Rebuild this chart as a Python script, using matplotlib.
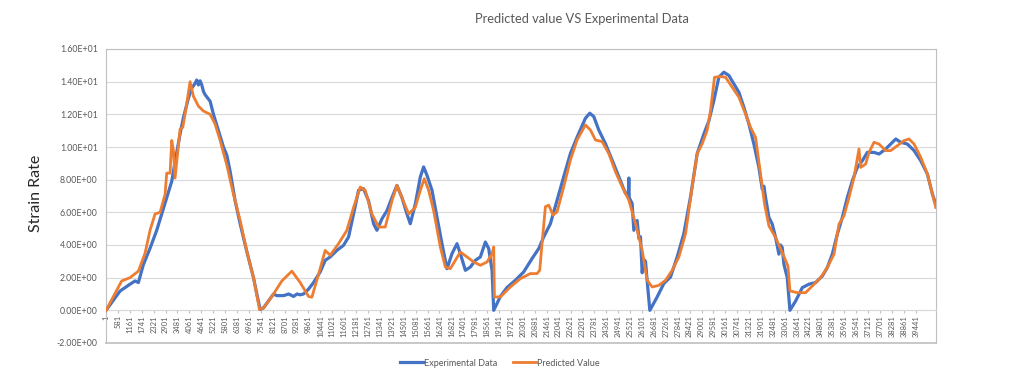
import matplotlib
matplotlib.use("Agg")
import matplotlib.pyplot as plt

# ---- data ----
exp_x = [1, 683, 1170, 1414, 1577, 1820, 2145, 2470, 2714, 2958, 3202, 3364, 3608, 3770,
         4014, 4177, 4339, 4420, 4502, 4583, 4664, 4746, 4827, 4950, 5071, 5150, 5233, 5477,
         5720, 5883, 6046, 6289, 6533, 6858, 7183, 7345, 7508, 7670, 8158, 8320, 8646, 8900,
         9133, 9300, 9458, 9620, 9864, 10106, 10431, 10675, 10918, 11243, 11568, 11812,
         12056, 12300, 12543, 12787, 13031, 13193, 13437, 13681, 13925, 14168, 14412, 14656,
         14818, 15062, 15306, 15468, 15631, 15875, 16118, 16362, 16606, 16850, 17093, 17256,
         17500, 17743, 17987, 18231, 18475, 18637, 18800, 18881, 19206, 19529, 19935, 20341,
         20748, 21073, 21317, 21641, 21966, 22291, 22616, 22941, 23347, 23559, 23754, 23998,
         24323, 24648, 24973, 25298, 25440, 25460, 25480, 25623, 25704, 25866, 25950, 26029,
         26110, 26200, 26273, 26354, 26484, 26841, 27166, 27491, 27816, 28141, 28466, 28791,
         29116, 29360, 29601, 29845, 30089, 30333, 30577, 30820, 31064, 31308, 31552, 31795,
         31958, 32040, 32120, 32283, 32445, 32608, 32770, 32850, 32933, 33014, 33176, 33306,
         33583, 33908, 34233, 34558, 34883, 35127, 35370, 35614, 35858, 36102, 36345, 36589,
         36833, 37077, 37402, 37645, 37970, 38214, 38458, 38702, 39027, 39352, 39677, 40002,
         40245, 40408]
exp_y = [0.0, 1.18, 1.6, 1.8, 1.7, 2.8, 3.8, 4.9, 5.9, 6.9, 7.9, 9.1, 10.8, 11.8,
         13.0, 13.6, 13.9, 14.1, 13.8, 14.05, 13.8, 13.4, 13.2, 13.0, 12.8, 12.4, 12.0, 11.0,
         10.0, 9.5, 8.5, 6.7, 5.3, 3.6, 2.0, 1.0, 0.05, 0.15, 1.0, 0.9, 0.9, 1.0,
         0.85, 1.0, 0.95, 1.0, 1.3, 1.7, 2.35, 3.06, 3.27, 3.67, 3.98, 4.49,
         5.9, 7.35, 7.45, 6.7, 5.3, 4.9, 5.6, 6.1, 6.9, 7.65, 6.9, 5.9,
         5.3, 6.5, 8.16, 8.78, 8.27, 7.35, 5.7, 4.08, 2.55, 3.47, 4.08, 3.47,
         2.45, 2.65, 3.06, 3.27, 4.18, 3.78, 2.45, 0.0, 0.85, 1.4, 1.84, 2.35,
         3.17, 3.78, 4.5, 5.3, 6.75, 8.18, 9.6, 10.6, 11.76, 12.07, 11.86, 11.04,
         10.2, 9.2, 8.18, 7.16, 7.2, 8.1, 6.9, 6.54, 4.9, 5.5, 4.4, 4.5,
         2.3, 3.1, 3.0, 1.8, 0.0, 0.82, 1.64, 2.04, 3.27, 4.7, 6.95, 9.6,
         10.8, 11.6, 12.84, 14.27, 14.58, 14.38, 13.87, 13.35, 12.43, 11.41, 10.18, 8.75,
         7.42, 7.6, 6.91, 5.69, 5.28, 4.46, 3.44, 4.0, 3.84, 2.82, 2.0, 0.0,
         0.57, 1.39, 1.6, 1.7, 2.1, 2.62, 3.44, 4.66, 5.69, 6.91, 7.93, 8.75,
         9.16, 9.67, 9.67, 9.57, 9.88, 10.18, 10.49, 10.29, 10.18, 9.78, 9.16, 8.34,
         7.12, 6.5]

pred_x = [1, 764, 1170, 1577, 1902, 2145, 2389, 2633, 2877, 2958, 3120, 3202, 3283, 3364,
          3445, 3608, 3738, 3900, 4095, 4258, 4502, 4746, 5071, 5314, 5558, 5883, 6208, 6533,
          6858, 7183, 7475, 7670, 8158, 8564, 9052, 9458, 9864, 10025, 10350, 10675, 10918,
          11325, 11731, 12056, 12381, 12625, 12950, 13275, 13600, 13925, 14168, 14412, 14737,
          15062, 15306, 15501, 15712, 15956, 16281, 16525, 16768, 17012, 17256, 17581, 17906,
          18231, 18556, 18800, 18881, 18914, 19206, 19692, 20179, 20666, 20991, 21122, 21236,
          21398, 21560, 21772, 21966, 22291, 22616, 22941, 23347, 23591, 23835, 24160, 24485,
          24810, 25135, 25460, 25785, 26110, 26354, 26598, 26923, 27248, 27573, 27898, 28223,
          28548, 28791, 29035, 29279, 29439, 29634, 29927, 30170, 30495, 30820, 31145, 31389,
          31633, 31877, 32072, 32283, 32608, 32933, 33209, 33306, 33664, 34070, 34395, 34801,
          35127, 35452, 35695, 35939, 36183, 36427, 36670, 36751, 36995, 37158, 37402, 37645,
          37970, 38214, 38539, 38864, 39108, 39352, 39677, 40002, 40245, 40408]
pred_y = [0.0, 1.8, 2.0, 2.4, 3.5, 4.9, 5.9, 6.0, 7.1, 8.4, 8.4, 10.4, 9.8, 8.1,
          9.1, 11.1, 11.2, 12.4, 14.0, 13.1, 12.5, 12.2, 12.0, 11.4, 10.4, 8.9, 7.1, 5.5,
          3.6, 2.0, 0.05, 0.15, 1.0, 1.8, 2.4, 1.7, 0.85, 0.8, 2.2, 3.67, 3.37,
          4.08, 4.9, 6.3, 7.55, 7.35, 5.9, 5.1, 5.1, 6.7, 7.65, 6.9, 5.9,
          6.3, 7.35, 8.06, 7.35, 6.1, 3.88, 2.65, 2.55, 3.06, 3.57, 3.27, 2.96,
          2.76, 2.96, 3.47, 3.88, 0.82, 0.82, 1.43, 1.94, 2.25, 2.25, 2.45, 4.1,
          6.34, 6.44, 5.83, 6.03, 7.57, 9.2, 10.43, 11.35, 11.04, 10.43, 10.33, 9.6,
          8.49, 7.57, 6.75, 5.32, 3.68, 1.84, 1.43, 1.53, 1.84, 2.45, 3.27, 4.7,
          7.57, 9.6, 10.2, 11.04, 12.23, 14.27, 14.31, 14.27, 13.66, 13.05, 12.02, 11.2,
          10.59, 8.34, 6.5, 5.17, 4.46, 3.54, 2.72, 1.19, 1.08, 1.08, 1.49, 2.0,
          2.62, 3.44, 5.28, 5.79, 6.91, 8.14, 9.88, 8.75, 8.96, 9.67, 10.29, 10.18,
          9.78, 9.78, 10.08, 10.39, 10.49, 10.18, 9.37, 8.34, 7.12, 6.3]

x_tick_values = list(range(1, 39442, 580))
x_tick_labels = [str(v) for v in x_tick_values]
y_ticks = [-2, 0, 2, 4, 6, 8, 10, 12, 14, 16]

title = "Predicted value VS Experimental Data"
y_label = "Strain Rate"
series_names = ["Experimental Data", "Predicted Value"]
colors = ["#4472C4", "#ED7D31"]

# ---- figure ----
plt.rcParams['font.family'] = ['Lato', 'DejaVu Sans']
fig = plt.figure(figsize=(10.24, 3.8), dpi=100)
ax = fig.add_axes([106 / 1024, 1 - 343 / 380, (936 - 106) / 1024, (343 - 49) / 380])

# spine placement first (it resets tick objects)
ax.spines['bottom'].set_position(('data', 0))
ax.spines['bottom'].set_color("#D9D9D9")
ax.spines['bottom'].set_linewidth(0.8)
for s in ['left', 'right', 'top']:
    ax.spines[s].set_color("#BFBFBF")
    ax.spines[s].set_linewidth(0.8)

ax.plot(exp_x, exp_y, color=colors[0], lw=2.3, label=series_names[0], solid_joinstyle='round', zorder=3)
ax.plot(pred_x, pred_y, color=colors[1], lw=2.0, label=series_names[1], solid_joinstyle='round', zorder=4)

ax.set_xlim(0, 40420)
ax.set_ylim(-2, 16)
ax.set_yticks(y_ticks)
ax.set_yticklabels([f"{v:.2E}" for v in y_ticks], fontsize=6.3, color="#595959")
ax.tick_params(axis='y', length=0, pad=6)
ax.yaxis.grid(True, color="#D9D9D9", lw=0.8)
ax.set_axisbelow(True)

ax.set_xticks(x_tick_values)
ax.set_xticklabels(x_tick_labels, rotation=90, fontsize=5.4, color="#595959")
ax.tick_params(axis='x', length=2, pad=1.5, color="#BFBFBF")

ax.axhline(-2, color="#BFBFBF", lw=1.2, clip_on=False, zorder=5)

fig.text(36 / 1024, 1 - 193 / 380, y_label, rotation=90, fontsize=11.5, color="#262626",
         ha='center', va='center')
fig.text(582 / 1024, 1 - 19 / 380, title, fontsize=9.3, color="#595959", ha='center', va='center')

fig.legend(loc='center', bbox_to_anchor=(500 / 1024, 1 - 363 / 380), ncol=2, frameon=False,
           fontsize=6.5, handlelength=2.5, handletextpad=0.2, columnspacing=1.7,
           labelcolor="#595959")

fig.savefig("out.png", dpi=100)
